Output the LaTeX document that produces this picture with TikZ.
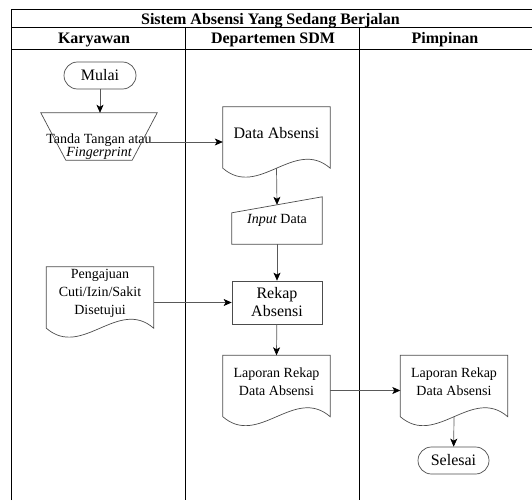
\documentclass[tikz,border=0pt]{standalone}
\usepackage{fontspec}
\setmainfont{Liberation Serif}
\usetikzlibrary{arrows.meta,calc}

% document symbol: straight top and sides, wavy bottom edge
\newcommand\docoutline[1]{%
  \draw[shapeline] ($(#1.south west)+(0,-9)$) -- (#1.north west) -- (#1.north east)
    -- ($(#1.south east)+(0,-9)$)
    .. controls +(-35.7,-31) and +(35.7,31) .. ($(#1.south west)+(0,-9)$) -- cycle;}

\tikzset{
  frame/.style={line width=0.9pt, black},
  shapeline/.style={line width=0.7pt, draw=black!70},
  flow/.style={line width=0.7pt, draw=black!65, -{Stealth[length=8pt,width=7pt,inset=2pt,black]}},
  lanehead/.style={font=\fontsize{16}{18}\selectfont\bfseries, inner sep=0pt},
  term/.style={shapeline, rounded corners=13.5pt, minimum height=27pt, inner sep=0pt,
    font=\fontsize{16}{18}\selectfont},
  docbox/.style={minimum width=107pt, minimum height=70pt, inner sep=0pt},
  doctext/.style={align=center, yshift=8.5pt, inner sep=0pt},
  procbox/.style={shapeline, minimum width=90pt, minimum height=43pt, inner sep=0pt,
    align=center, font=\fontsize{16}{18}\selectfont},
  plain/.style={minimum width=90pt, minimum height=47pt, inner sep=0pt, align=center}
}

\begin{document}
\begin{tikzpicture}[x=1pt,y=-1pt]
\useasboundingbox (0,0) rectangle (532,500);

% swimlane frame
\draw[frame] (11,500) -- (11,9) -- (532,9);
\draw[frame] (11,27) -- (532,27);
\draw[frame] (11,49) -- (532,49);
\draw[frame] (185,27) -- (185,500);
\draw[frame] (359,27) -- (359,500);

\node[lanehead, anchor=base] (title) at (270.5,25) {Sistem Absensi Yang Sedang Berjalan};
\node[lanehead, anchor=base] (h1) at (94,44) {Karyawan};
\node[lanehead, anchor=base] (h2) at (273,44) {Departemen SDM};
\node[lanehead, anchor=base] (h3) at (445,44) {Pimpinan};

% Karyawan lane
\node[term, minimum width=72pt] (mulai) at (100,75.5) {Mulai};
\node[minimum width=116pt, minimum height=47pt, inner sep=0pt,
      label={[align=center, inner sep=0pt, yshift=-10pt, font=\fontsize{14}{13}\selectfont]center:Tanda Tangan atau\\\itshape Fingerprint}]
      (ttd) at (99,136.5) {};
\draw[shapeline] (ttd.north west) -- (ttd.north east)
  -- ($(ttd.south east)+(-25,0)$) -- ($(ttd.south west)+(25,0)$) -- cycle;

\node[docbox, label={[doctext, font=\fontsize{14}{18}\selectfont]center:Pengajuan\\Cuti/Izin/Sakit\\Disetujui}]
  (ajuan) at (100,302) {};
\docoutline{ajuan}

% Departemen SDM lane
\node[docbox, label={[doctext, font=\fontsize{16}{18}\selectfont]center:Data Absensi}]
  (data) at (276.5,142) {};
\docoutline{data}

\node[plain, font=\fontsize{14}{16}\selectfont] (input) at (277,220.5) {\textit{Input} Data};
\draw[shapeline] (input.south west) -- ($(input.north west)+(0,16)$)
  -- (input.north east) -- (input.south east) -- cycle;

\node[procbox] (rekap) at (277,302.5) {Rekap\\Absensi};

\node[docbox, label={[doctext, font=\fontsize{14}{18}\selectfont]center:Laporan Rekap\\Data Absensi}]
  (lapsdm) at (276.5,390.5) {};
\docoutline{lapsdm}

% Pimpinan lane
\node[docbox, label={[doctext, font=\fontsize{14}{18}\selectfont]center:Laporan Rekap\\Data Absensi}]
  (lappim) at (454,390.5) {};
\docoutline{lappim}

\node[term, minimum width=71pt] (selesai) at (453.5,460.5) {Selesai};

% connectors
\draw[flow] (mulai) -- (ttd.north -| mulai);
\draw[flow] ($(ttd.east |- data.west)+(-8,0)$) -- (data.west);
\draw[flow] ($(data.south)+(0,-9)$) -- ($(input.north)+(0,8)$);
\draw[flow] (input) -- (rekap);
\draw[flow] (ajuan.east |- rekap.west) -- (rekap.west);
\draw[flow] (rekap) -- (lapsdm.north);
\draw[flow] (lapsdm.east) -- (lappim.west);
\draw[flow] ($(lappim.south)+(0,-9)$) -- (selesai);
\end{tikzpicture}
\end{document}
